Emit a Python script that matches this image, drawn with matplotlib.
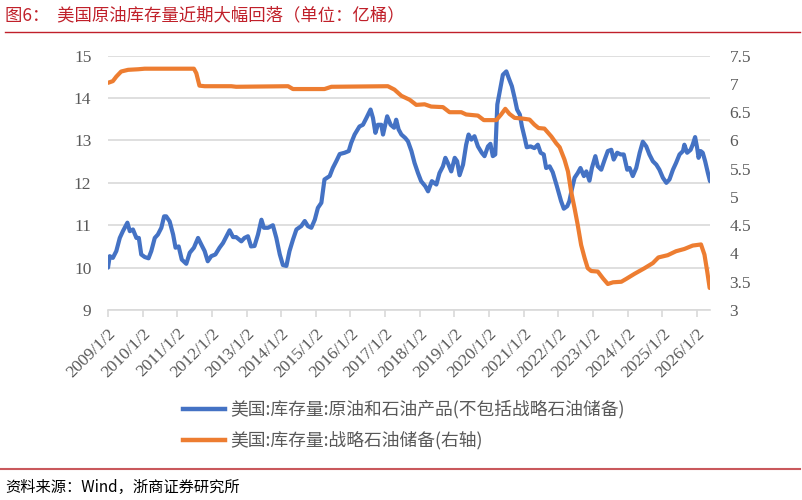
import numpy as np
import matplotlib
matplotlib.use("Agg")
import matplotlib.pyplot as plt
from matplotlib.lines import Line2D

plt.rcParams['font.family'] = ['Noto Sans CJK SC', 'DejaVu Sans']

# --- data (x in fractional years) ---
stock_years = [
    2009.00, 2009.05, 2009.14, 2009.24, 2009.34, 2009.43, 2009.56, 2009.63, 2009.72, 2009.82,
    2009.89, 2009.96, 2010.06, 2010.17, 2010.25, 2010.35, 2010.44, 2010.54, 2010.62, 2010.68,
    2010.78, 2010.88, 2010.95, 2011.04, 2011.13, 2011.26, 2011.36, 2011.48, 2011.60, 2011.69,
    2011.79, 2011.88, 2011.98, 2012.10, 2012.22, 2012.32, 2012.41, 2012.51, 2012.61, 2012.70,
    2012.85, 2012.94, 2013.04, 2013.13, 2013.23, 2013.33, 2013.43, 2013.50, 2013.62, 2013.76,
    2013.86, 2013.96, 2014.05, 2014.15, 2014.24, 2014.34, 2014.44, 2014.58, 2014.68, 2014.77,
    2014.87, 2014.97, 2015.06, 2015.16, 2015.25, 2015.40, 2015.49, 2015.59, 2015.69, 2015.83,
    2015.95, 2016.02, 2016.12, 2016.26, 2016.36, 2016.46, 2016.58, 2016.65, 2016.72, 2016.79,
    2016.89, 2016.94, 2017.06, 2017.16, 2017.26, 2017.32, 2017.39, 2017.47, 2017.58, 2017.66,
    2017.76, 2017.85, 2017.95, 2018.04, 2018.16, 2018.24, 2018.35, 2018.48, 2018.57, 2018.67,
    2018.74, 2018.81, 2018.91, 2019.01, 2019.08, 2019.15, 2019.25, 2019.34, 2019.41, 2019.49,
    2019.58, 2019.68, 2019.79, 2019.87, 2019.97, 2020.04, 2020.11, 2020.18, 2020.24, 2020.31,
    2020.40, 2020.50, 2020.57, 2020.66, 2020.74, 2020.81, 2020.89, 2020.95, 2021.03, 2021.09,
    2021.20, 2021.31, 2021.41, 2021.49, 2021.58, 2021.65, 2021.75, 2021.84, 2021.96, 2022.08,
    2022.16, 2022.26, 2022.32, 2022.39, 2022.47, 2022.56, 2022.64, 2022.74, 2022.81, 2022.90,
    2022.97, 2023.07, 2023.14, 2023.24, 2023.34, 2023.43, 2023.53, 2023.60, 2023.70, 2023.80,
    2023.89, 2023.99, 2024.06, 2024.15, 2024.25, 2024.35, 2024.44, 2024.54, 2024.63, 2024.73,
    2024.83, 2024.92, 2025.02, 2025.12, 2025.21, 2025.31, 2025.40, 2025.50, 2025.60, 2025.64,
    2025.72, 2025.82, 2025.88, 2025.95, 2026.01, 2026.05, 2026.11, 2026.17, 2026.24, 2026.32,
    2026.38,
]
stock_vals = [
    10.00, 10.27, 10.23, 10.39, 10.70, 10.86, 11.06, 10.86, 10.90, 10.70,
    10.70, 10.31, 10.25, 10.22, 10.39, 10.70, 10.78, 10.94, 11.21, 11.21,
    11.09, 10.78, 10.47, 10.50, 10.19, 10.09, 10.35, 10.47, 10.70, 10.55,
    10.39, 10.15, 10.27, 10.31, 10.47, 10.58, 10.72, 10.88, 10.72, 10.72,
    10.62, 10.70, 10.74, 10.50, 10.51, 10.78, 11.13, 10.94, 10.94, 11.00,
    10.70, 10.31, 10.06, 10.04, 10.39, 10.66, 10.90, 10.98, 11.10, 10.98,
    10.94, 11.13, 11.41, 11.53, 12.08, 12.16, 12.35, 12.51, 12.68, 12.71,
    12.75, 12.94, 13.14, 13.33, 13.37, 13.53, 13.73, 13.53, 13.18, 13.37,
    13.37, 13.14, 13.57, 13.37, 13.30, 13.49, 13.26, 13.14, 13.06, 12.98,
    12.75, 12.47, 12.23, 12.04, 11.92, 11.80, 12.04, 11.96, 12.23, 12.39,
    12.59, 12.47, 12.27, 12.59, 12.51, 12.18, 12.43, 12.90, 13.14, 13.02,
    13.10, 12.86, 12.71, 12.63, 12.86, 12.92, 12.63, 12.67, 13.85, 14.16,
    14.55, 14.63, 14.47, 14.28, 14.00, 13.73, 13.61, 13.33, 13.06, 12.84,
    12.86, 12.82, 12.90, 12.71, 12.67, 12.35, 12.39, 12.25, 11.92, 11.57,
    11.39, 11.45, 11.57, 11.84, 12.12, 12.23, 12.35, 12.16, 12.27, 12.05,
    12.35, 12.63, 12.39, 12.31, 12.55, 12.75, 12.78, 12.55, 12.71, 12.67,
    12.67, 12.31, 12.35, 12.16, 12.35, 12.71, 12.97, 12.86, 12.67, 12.51,
    12.43, 12.31, 12.12, 12.00, 12.08, 12.31, 12.47, 12.67, 12.75, 12.90,
    12.71, 12.78, 12.90, 13.08, 12.82, 12.59, 12.75, 12.71, 12.51, 12.23,
    12.04,
]

spr_years = [
    2009.00, 2009.14, 2009.24, 2009.38, 2009.58, 2009.87, 2010.06, 2011.48, 2011.55, 2011.64,
    2011.79, 2012.56, 2012.70, 2014.20, 2014.34, 2015.25, 2015.45, 2017.08, 2017.27, 2017.47,
    2017.71, 2017.90, 2018.14, 2018.33, 2018.67, 2018.86, 2019.20, 2019.34, 2019.68, 2019.85,
    2020.21, 2020.35, 2020.47, 2020.59, 2020.74, 2020.93, 2021.17, 2021.31, 2021.43, 2021.60,
    2021.80, 2021.94, 2022.04, 2022.18, 2022.28, 2022.37, 2022.47, 2022.56, 2022.66, 2022.76,
    2022.85, 2022.95, 2023.14, 2023.29, 2023.43, 2023.58, 2023.82, 2023.96, 2024.20, 2024.49,
    2024.73, 2024.89, 2025.16, 2025.40, 2025.64, 2025.88, 2026.12, 2026.22, 2026.30, 2026.37,
]
spr_vals = [
    7.02, 7.05, 7.13, 7.22, 7.25, 7.26, 7.27, 7.27, 7.19, 6.97,
    6.96, 6.96, 6.95, 6.96, 6.91, 6.91, 6.95, 6.96, 6.90, 6.79,
    6.72, 6.63, 6.64, 6.60, 6.59, 6.50, 6.50, 6.46, 6.44, 6.36,
    6.36, 6.46, 6.56, 6.47, 6.40, 6.39, 6.37, 6.28, 6.22, 6.21,
    6.07, 5.95, 5.88, 5.66, 5.45, 5.10, 4.80, 4.51, 4.15, 3.92,
    3.74, 3.69, 3.68, 3.56, 3.46, 3.49, 3.50, 3.55, 3.64, 3.74,
    3.83, 3.93, 3.97, 4.04, 4.08, 4.14, 4.16, 3.98, 3.68, 3.39,
]

tick_years = list(range(2009, 2027))
tick_labels = [f"{y}/1/2" for y in tick_years]
left_ticks = [9, 10, 11, 12, 13, 14, 15]
right_ticks = [3, 3.5, 4, 4.5, 5, 5.5, 6, 6.5, 7, 7.5]

blue = '#4472C4'
orange = '#ED7D31'
grey_txt = '#595959'
grid_c = '#D9D9D9'
serif = 'Liberation Serif'

fig = plt.figure(figsize=(8.02, 5.0), dpi=100)
ax = fig.add_axes([108 / 802, 1 - 310 / 500, (710 - 108) / 802, (310 - 55.7) / 500])

ax.plot(stock_years, stock_vals, color=blue, lw=3.0, solid_capstyle='round', zorder=3)
ax.set_xlim(2009.0, 2026.38)
ax.set_ylim(9, 15)
ax.set_yticks(left_ticks)
ax.grid(axis='y', color=grid_c, lw=1.2)
ax.set_axisbelow(True)
for s in ['top', 'left', 'right']:
    ax.spines[s].set_visible(False)
ax.spines['bottom'].set_color(grid_c)
ax.spines['bottom'].set_linewidth(1.2)

ax.set_xticks(tick_years)
ax.set_xticklabels(tick_labels, rotation=45, ha='right', va='top',
                   rotation_mode='anchor', fontfamily=serif, fontsize=12.5, color=grey_txt)
ax.tick_params(axis='x', direction='out', length=5, color=grid_c, width=1.2, pad=6)
ax.tick_params(axis='y', length=0, pad=12, labelcolor=grey_txt, labelsize=12.5)
for lab in ax.get_yticklabels():
    lab.set_fontfamily(serif)

ax2 = ax.twinx()
ax2.plot(spr_years, spr_vals, color=orange, lw=3.0, solid_capstyle='round', zorder=3)
ax2.set_ylim(3, 7.5)
ax2.set_yticks(right_ticks)
ax2.set_yticklabels([f"{v:g}" for v in right_ticks], fontfamily=serif)
ax2.tick_params(axis='y', length=0, pad=14, labelcolor=grey_txt, labelsize=12.5)
for s in ax2.spines.values():
    s.set_visible(False)

# legend below the plot
handles = [Line2D([0], [0], color=blue, lw=3.2),
           Line2D([0], [0], color=orange, lw=3.2)]
labels = ['美国:库存量:原油和石油产品(不包括战略石油储备)',
          '美国:库存量:战略石油储备(右轴)']
leg = fig.legend(handles, labels, loc='center', bbox_to_anchor=(404 / 802, 1 - 425 / 500),
                 frameon=False, fontsize=12.8, handlelength=2.4, handletextpad=0.3,
                 labelspacing=0.7)
for t in leg.get_texts():
    t.set_color(grey_txt)

# title, source and the red rules
fig.text(5 / 802, 1 - 15 / 500, '图6：  美国原油库存量近期大幅回落（单位：亿桶）',
         color='#C0202A', fontsize=12.5, va='center', ha='left')
fig.add_artist(Line2D([5 / 802, 800 / 802], [1 - 32 / 500, 1 - 32 / 500],
                      color='#C0202A', lw=1.0))
fig.add_artist(Line2D([0, 800 / 802], [1 - 469 / 500, 1 - 469 / 500],
                      color='#C9585C', lw=1.5))
fig.text(5 / 802, 1 - 487 / 500, '资料来源：Wind，浙商证券研究所',
         color='black', fontsize=11, va='center', ha='left')

fig.savefig('out.png', dpi=100)
